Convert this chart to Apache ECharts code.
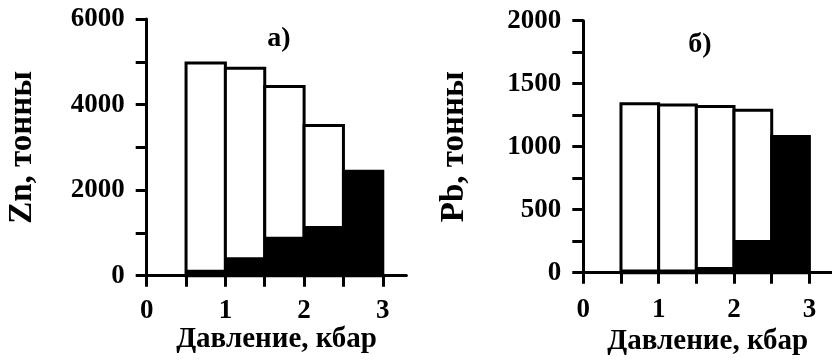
<!DOCTYPE html>
<html>
<head>
<meta charset="utf-8">
<script src="https://cdn.jsdelivr.net/npm/echarts@6/dist/echarts.min.js"></script>
<style>
html,body{margin:0;padding:0;background:#fff;}
#c{width:832px;height:363px;}
</style>
</head>
<body>
<div id="c"></div>
<script>
// ---- data ----
const binLeft  = [0.5, 1.0, 1.5, 2.0, 2.5];
const binRight = [1.0, 1.5, 2.0, 2.5, 3.0];
const znTotal = [4970, 4850, 4420, 3510, 2440];
const znBlack = [140, 430, 910, 1160, 2440];
const pbTotal = [1340, 1330, 1320, 1290, 1080];
const pbBlack = [25, 25, 45, 260, 1080];
const xTickValues = [0, 0.5, 1, 1.5, 2, 2.5, 3];
const xLabelValues = [0, 1, 2, 3];
const znTickValues = [0, 1000, 2000, 3000, 4000, 5000, 6000];
const znLabelValues = [0, 2000, 4000, 6000];
const pbTickValues = [0, 250, 500, 750, 1000, 1250, 1500, 1750, 2000];
const pbLabelValues = [0, 500, 1000, 1500, 2000];
const xName = 'Давление, кбар';
const znName = 'Zn, тонны';
const pbName = 'Pb, тонны';
const panelLabels = ['а)', 'б)'];

const FONT = "'Liberation Serif', 'Times New Roman', serif";

function rows(total) {
  return binLeft.map((l, i) => [l, binRight[i], total[i]]);
}
function renderer(fill, outline) {
  return function (params, api) {
    const p0 = api.coord([api.value(0), api.value(2)]);
    const p1 = api.coord([api.value(1), 0]);
    return {
      type: 'rect',
      shape: { x: p0[0], y: p0[1], width: p1[0] - p0[0], height: p1[1] - p0[1] },
      style: outline ? { fill: fill, stroke: '#000', lineWidth: 3 } : { fill: fill, stroke: null }
    };
  };
}
const plain = v => String(v);

const axisLine = { show: true, lineStyle: { color: '#000', width: 3 } };
function xAxis(gridIndex, gap, margin) {
  return {
    type: 'value', gridIndex, min: 0, max: 3.3,
    axisLine, splitLine: { show: false },
    axisTick: { show: true, customValues: xTickValues, length: 11, lineStyle: { color: '#000', width: 3 } },
    axisLabel: { customValues: xLabelValues, formatter: plain, color: '#000', fontFamily: FONT, fontWeight: 'bold', fontSize: 27, margin },
    name: xName, nameLocation: 'middle', nameGap: gap, nameMoveOverlap: false,
    nameTextStyle: { color: '#000', fontFamily: FONT, fontWeight: 'bold', fontSize: 29 }
  };
}
function yAxis(gridIndex, max, ticks, labels, name, gap) {
  return {
    type: 'value', gridIndex, min: 0, max,
    axisLine, splitLine: { show: false },
    axisTick: { show: true, customValues: ticks, length: 11, lineStyle: { color: '#000', width: 3 } },
    axisLabel: { customValues: labels, formatter: plain, color: '#000', fontFamily: FONT, fontWeight: 'bold', fontSize: 27, margin: 22 },
    name, nameLocation: 'middle', nameGap: gap, nameRotate: 90, nameMoveOverlap: false,
    nameTextStyle: { color: '#000', fontFamily: FONT, fontWeight: 'bold', fontSize: 33 }
  };
}

const chart = echarts.init(document.getElementById('c'), null, { renderer: 'canvas' });
chart.setOption({
  animation: false,
  backgroundColor: '#fff',
  title: [
    { text: panelLabels[0], left: 274, top: 20, textAlign: 'center',
      textStyle: { fontFamily: FONT, fontWeight: 'bold', fontSize: 28, color: '#000' } },
    { text: panelLabels[1], left: 695, top: 26, textAlign: 'center',
      textStyle: { fontFamily: FONT, fontWeight: 'bold', fontSize: 28, color: '#000' } }
  ],
  grid: [
    { left: 146.7, top: 19, bottom: 87.3, width: 259.7 },
    { left: 583.3, top: 20.7, bottom: 90.3, width: 256 }
  ],
  xAxis: [xAxis(0, 49, 22), xAxis(1, 54, 24)],
  yAxis: [
    yAxis(0, 6000, znTickValues, znLabelValues, znName, 108),
    yAxis(1, 2000, pbTickValues, pbLabelValues, pbName, 112)
  ],
  series: [
    { type: 'custom', xAxisIndex: 0, yAxisIndex: 0, data: rows(znTotal), renderItem: renderer('#fff', true), z: 2 },
    { type: 'custom', xAxisIndex: 0, yAxisIndex: 0, data: rows(znBlack), renderItem: renderer('#000', false), z: 3 },
    { type: 'custom', xAxisIndex: 1, yAxisIndex: 1, data: rows(pbTotal), renderItem: renderer('#fff', true), z: 2 },
    { type: 'custom', xAxisIndex: 1, yAxisIndex: 1, data: rows(pbBlack), renderItem: renderer('#000', false), z: 3 }
  ]
});
</script>
</body>
</html>
